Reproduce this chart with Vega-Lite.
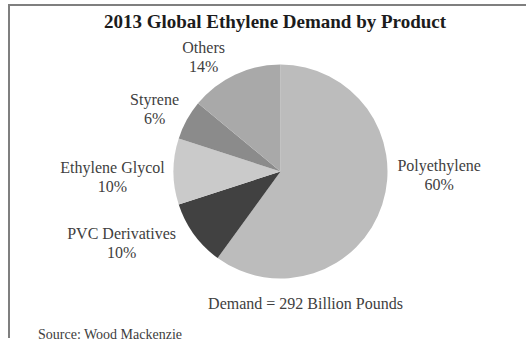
{
  "$schema": "https://vega.github.io/schema/vega-lite/v6.json",
  "width": 543,
  "height": 333,
  "autosize": {"type": "none"},
  "padding": {"left": 9, "top": 5, "right": -26, "bottom": 7},
  "background": "white",
  "config": {
    "view": {"stroke": null},
    "font": "Liberation Serif",
    "text": {"font": "Liberation Serif", "fontSize": 16, "color": "#404040"}
  },
  "title": {
    "text": "2013 Global Ethylene Demand by Product",
    "font": "Liberation Serif",
    "fontSize": 19,
    "fontWeight": "bold",
    "color": "#1c1c1c",
    "anchor": "middle",
    "frame": "group",
    "baseline": "alphabetic",
    "offset": -43,
    "dx": -5.5
  },
  "data": {
    "values": [
      {"product": "Polyethylene", "share": 60},
      {"product": "PVC Derivatives", "share": 10},
      {"product": "Ethylene Glycol", "share": 10},
      {"product": "Styrene", "share": 6},
      {"product": "Others", "share": 14}
    ]
  },
  "transform": [
    {"window": [{"op": "row_number", "as": "slice_order"}]},
    {"stack": "share", "groupby": [], "sort": [{"field": "slice_order", "order": "ascending"}], "as": ["start", "end"]},
    {"calculate": "(datum.start + datum.end) / 2", "as": "mid"},
    {"calculate": "[datum.product, datum.share + '%']", "as": "label"}
  ],
  "layer": [
    {
      "data": {"values": [{"frame": "border"}]},
      "mark": {"type": "rect", "fill": "white", "stroke": "#7f7f7f", "strokeWidth": 2, "strokeDash": [543, 876, 333]},
      "encoding": {}
    },
    {
      "mark": {"type": "arc", "outerRadius": 107},
      "encoding": {
        "theta": {"field": "start", "type": "quantitative", "scale": {"domain": [0, 100]}},
        "theta2": {"field": "end"},
        "color": {
          "field": "product",
          "type": "nominal",
          "scale": {
            "domain": ["Polyethylene", "PVC Derivatives", "Ethylene Glycol", "Styrene", "Others"],
            "range": ["#bcbcbc", "#414141", "#cacaca", "#8b8b8b", "#a9a9a9"]
          },
          "legend": null
        }
      }
    },
    {
      "transform": [{"filter": "datum.product === 'Polyethylene'"}],
      "mark": {"type": "text", "radius": 150, "dx": 16, "dy": -51.5, "baseline": "middle", "lineHeight": 19},
      "encoding": {
        "theta": {"field": "mid", "type": "quantitative", "scale": {"domain": [0, 100]}},
        "text": {"field": "label"}
      }
    },
    {
      "transform": [{"filter": "datum.product === 'PVC Derivatives'"}],
      "mark": {"type": "text", "radius": 150, "dx": -37.5, "dy": -25.5, "baseline": "middle", "lineHeight": 19},
      "encoding": {
        "theta": {"field": "mid", "type": "quantitative", "scale": {"domain": [0, 100]}},
        "text": {"field": "label"}
      }
    },
    {
      "transform": [{"filter": "datum.product === 'Ethylene Glycol'"}],
      "mark": {"type": "text", "radius": 150, "dx": -18, "dy": -3.5, "baseline": "middle", "lineHeight": 19},
      "encoding": {
        "theta": {"field": "mid", "type": "quantitative", "scale": {"domain": [0, 100]}},
        "text": {"field": "label"}
      }
    },
    {
      "transform": [{"filter": "datum.product === 'Styrene'"}],
      "mark": {"type": "text", "radius": 150, "dx": 5.5, "dy": 0.5, "baseline": "middle", "lineHeight": 19},
      "encoding": {
        "theta": {"field": "mid", "type": "quantitative", "scale": {"domain": [0, 100]}},
        "text": {"field": "label"}
      }
    },
    {
      "transform": [{"filter": "datum.product === 'Others'"}],
      "mark": {"type": "text", "radius": 150, "dx": -13, "dy": 12.5, "baseline": "middle", "lineHeight": 19},
      "encoding": {
        "theta": {"field": "mid", "type": "quantitative", "scale": {"domain": [0, 100]}},
        "text": {"field": "label"}
      }
    },
    {
      "data": {"values": [{"note": "Demand = 292 Billion Pounds"}]},
      "mark": {"type": "text", "align": "center", "baseline": "alphabetic", "dx": 25, "dy": 137, "fontSize": 16},
      "encoding": {"text": {"field": "note"}}
    },
    {
      "data": {"values": [{"note": "Source: Wood Mackenzie"}]},
      "mark": {"type": "text", "align": "left", "baseline": "alphabetic", "dx": -242.5, "dy": 167, "fontSize": 14},
      "encoding": {"text": {"field": "note"}}
    }
  ]
}
